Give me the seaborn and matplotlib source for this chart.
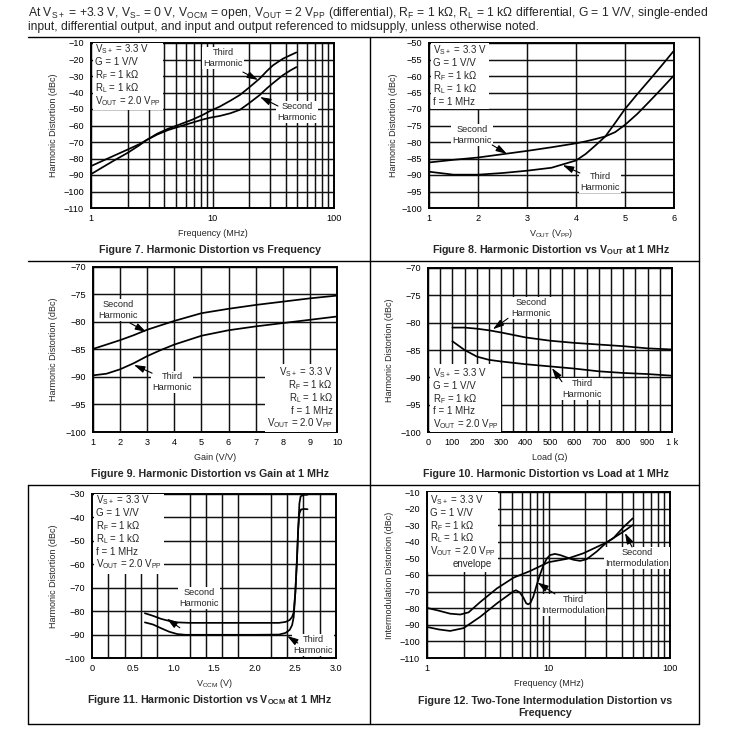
import numpy as np
import pandas as pd
import matplotlib
matplotlib.use("Agg")
import matplotlib.pyplot as plt
import seaborn as sns
from matplotlib.lines import Line2D
from matplotlib.patches import Rectangle
from matplotlib.transforms import Bbox
from matplotlib.ticker import NullFormatter

# ---------------- data ----------------
# Figure 7: harmonic distortion vs frequency (MHz)
f7_freq = [1.0, 1.3, 1.6, 2.0, 2.5, 2.87, 3.5, 4.3, 5.4, 6.8, 8.2, 9.5, 11.5, 14, 16.8, 20, 24.5, 28, 31.5, 38, 44, 49]
f7_second = [-84.6, -80.8, -77.8, -74.6, -71.3, -68.8, -65.5, -62.8, -60.5, -58.3, -56.5, -55.3, -54.2, -52.6, -50.5, -46.5, -41.5, -37.5, -34.3, -29.5, -26.5, -24.6]
f7_third = [-89.5, -84.5, -80.6, -76.6, -72.0, -68.8, -65.0, -62.0, -59.3, -56.5, -53.8, -51.3, -48.5, -45.0, -41.5, -37.0, -31.5, -27.0, -23.5, -19.5, -17.3, -15.7]

# Figure 8: harmonic distortion vs VOUT (VPP)
f8_vout = [1.0, 1.5, 2.0, 2.5, 3.0, 3.5, 4.0, 4.2, 4.4, 4.6, 4.8, 5.0, 5.25, 5.5, 5.75, 6.0]
f8_second = [-86.2, -85.4, -84.7, -83.7, -82.7, -81.6, -80.4, -79.8, -79.1, -78.3, -77.0, -74.8, -71.5, -67.7, -63.8, -59.8]
f8_third = [-89.0, -89.9, -89.9, -89.4, -88.7, -87.8, -85.6, -83.6, -81.0, -78.3, -74.2, -70.0, -65.5, -61.2, -56.8, -52.3]

# Figure 9: harmonic distortion vs gain (V/V)
f9_gain = [1, 1.5, 2, 2.5, 3, 3.5, 4, 5, 6, 7, 8, 9, 10]
f9_second = [-84.9, -84.1, -83.3, -82.4, -81.4, -80.6, -79.8, -78.4, -77.6, -76.9, -76.3, -75.7, -75.2]
f9_third = [-89.7, -89.4, -88.6, -87.5, -86.2, -85.1, -84.1, -82.5, -81.5, -80.8, -80.2, -79.6, -79.0]

# Figure 10: harmonic distortion vs load (ohm)
f10_load = [100, 125, 150, 200, 250, 300, 400, 500, 600, 700, 800, 900, 1000]
f10_second = [-80.9, -80.9, -80.9, -81.1, -81.4, -81.8, -82.7, -83.3, -83.7, -84.0, -84.3, -84.7, -84.9]
f10_third = [-83.4, -84.2, -85.0, -86.2, -86.8, -87.1, -87.6, -88.0, -88.4, -88.9, -89.2, -89.4, -89.7]

# Figure 11: harmonic distortion vs VOCM (V)
f11_v_second = [0.65, 0.75, 0.85, 0.95, 1.05, 1.2, 1.5, 2.0, 2.3, 2.38, 2.43, 2.46, 2.48, 2.50, 2.52, 2.535, 2.55, 2.57, 2.61, 2.65]
f11_second = [-80.9, -82.0, -83.3, -84.2, -84.8, -85.0, -85.0, -85.0, -85.0, -84.6, -83.8, -82.5, -80.5, -72.0, -58.0, -45.0, -38.3, -36.6, -36.4, -36.5]
f11_v_third = [0.65, 0.75, 0.85, 0.95, 1.05, 1.15, 1.5, 2.0, 2.3, 2.38, 2.43, 2.46, 2.48, 2.50, 2.52, 2.535, 2.55, 2.565, 2.6, 2.65]
f11_third = [-84.8, -85.7, -87.3, -88.8, -89.8, -90.1, -90.1, -90.1, -90.0, -89.3, -88.0, -86.0, -82.5, -72.0, -58.0, -45.0, -34.0, -31.0, -30.4, -30.3]

# Figure 12: two-tone intermodulation vs frequency (MHz)
f12_freq_second = [1.0, 1.25, 1.55, 1.88, 2.2, 2.74, 3.76, 5.16, 7.06, 10.0, 14.1, 19.4, 30.2, 41.3, 49.3]
f12_second = [-79.8, -81.5, -83.3, -83.8, -82.5, -76.3, -68.1, -61.6, -57.6, -52.3, -50.3, -46.9, -40.3, -33.9, -29.9]
f12_freq_third = [1.0, 1.25, 1.55, 2.0, 2.74, 3.76, 5.16, 5.4, 5.8, 6.2, 6.55, 6.8, 7.1, 7.5, 8.0, 8.5, 9.1, 9.7, 10.3, 11.3, 12.5, 14, 16, 18.2, 20.6, 24.9, 30.2, 34.2, 41, 49.3]
f12_third = [-91.3, -92.8, -93.7, -92.0, -85.2, -77.1, -69.8, -69.2, -70.5, -73.5, -77.0, -77.7, -76.8, -73.0, -66.0, -60.0, -54.0, -50.0, -48.0, -47.3, -48.0, -49.3, -50.8, -51.5, -50.5, -45.9, -40.3, -37.8, -31.5, -25.9]

# tick labels
log_ticks = [1, 10, 100]
log_labels = ["1", "10", "100"]
load_ticks = [0, 100, 200, 300, 400, 500, 600, 700, 800, 900, 1000]
load_labels = ["0", "100", "200", "300", "400", "500", "600", "700", "800", "900", "1 k"]
vocm_ticks = [0, 0.5, 1.0, 1.5, 2.0, 2.5, 3.0]
vocm_labels = ["0", "0.5", "1.0", "1.5", "2.0", "2.5", "3.0"]

# condition boxes
cond_vs = "V$_{S+}$ = 3.3 V"
cond_g = "G = 1 V/V"
cond_rf = "R$_F$ = 1 kΩ"
cond_rl = "R$_L$ = 1 kΩ"
cond_f = "f = 1 MHz"
cond_vout = "V$_{OUT}$ = 2.0 V$_{PP}$"

# ---------------- style ----------------
sns.set_theme(style="white")
plt.rcParams["font.family"] = ["Liberation Sans", "DejaVu Sans"]
plt.rcParams["mathtext.default"] = "regular"
plt.rcParams["axes.unicode_minus"] = True

W, H = 740, 743
fig = plt.figure(figsize=(W / 100, H / 100), dpi=100)
fig.patch.set_facecolor("white")

TICK = 6.6
LAB = 6.5
ANN = 6.7
BOX = 7.0
CAP = 7.7
GRID_KW = dict(color="#111111", lw=1.05)
LINE_KW = dict(color="black", lw=1.25)

AXPX = {}
BOXES = []


def rect(l, t, r, b):
    return [l / W, 1 - b / H, (r - l) / W, (b - t) / H]


def make_ax(l, t, r, b, xlabel, ylabel, ylab_x, xlab_y):
    ax = fig.add_axes(rect(l, t, r, b))
    AXPX[ax] = (l, t, r, b)
    ax.set_facecolor("white")
    for s in ax.spines.values():
        s.set_visible(True)
        s.set_color("black")
        s.set_linewidth(1.4)
    ax.set_axisbelow(True)
    ax.tick_params(axis="both", which="both", length=0, labelsize=TICK, colors="black")
    ax.tick_params(axis="y", pad=5)
    ax.tick_params(axis="x", pad=4.5)
    ax.set_xlabel(xlabel, fontsize=LAB, va="center", ha="center")
    ax.set_ylabel(ylabel, fontsize=LAB, va="center", ha="center")
    ax.xaxis.set_label_coords(0.5, (b - xlab_y) / (b - t))
    ax.yaxis.set_label_coords((ylab_x - l) / (r - l), 0.5)
    return ax


def curve(ax, x, y):
    sns.lineplot(x=x, y=y, ax=ax, sort=False, estimator=None, **LINE_KW)


def label(ax, x, y, s, ha="center", va="center", size=ANN):
    ax.text(x, y, s, transform=ax.transAxes, ha=ha, va=va, fontsize=size,
            multialignment="center", linespacing=1.25,
            bbox=dict(facecolor="white", edgecolor="none", pad=1.0), zorder=4)


def cond_box(ax, x_px, y0_px, lines, ha="left", step=12.8, extra=None):
    l, t, r, b = AXPX[ax]
    texts = []
    for i, s in enumerate(lines):
        y = y0_px + i * step + 3.5
        texts.append(ax.text((x_px - l) / (r - l), (b - y) / (b - t), s, transform=ax.transAxes,
                             ha=ha, va="baseline", fontsize=BOX, zorder=4))
    if extra is not None:
        ex_x, ex_i, ex_s = extra
        y = y0_px + ex_i * step + 3.5
        texts.append(ax.text((ex_x - l) / (r - l), (b - y) / (b - t), ex_s, transform=ax.transAxes,
                             ha="center", va="baseline", fontsize=BOX, zorder=4))
    BOXES.append((ax, texts))


def arrow(ax, tail, tip):
    ax.annotate("", xy=tip, xytext=tail, xycoords="data", textcoords="data",
                arrowprops=dict(arrowstyle="-|>,head_length=0.55,head_width=0.17",
                                color="black", lw=0.8, shrinkA=0, shrinkB=0), zorder=5)


def log_axis(ax):
    ax.set_xscale("log")
    ax.set_xlim(1, 100)
    ax.set_xticks(log_ticks)
    ax.set_xticklabels(log_labels)
    ax.set_xticks([v * d for d in (1, 10) for v in range(2, 10)], minor=True)
    ax.xaxis.set_minor_formatter(NullFormatter())
    ax.grid(True, which="both", axis="x", **GRID_KW)
    ax.grid(True, which="major", axis="y", **GRID_KW)


HD = "Harmonic Distortion (dBc)"

# ---- Figure 7 ----
ax7 = make_ax(91, 43, 334, 208, "Frequency (MHz)", HD, 53, 233)
curve(ax7, f7_freq, f7_second)
curve(ax7, f7_freq, f7_third)
log_axis(ax7)
ax7.set_ylim(-110, -10)
ax7.set_yticks(np.arange(-110, -9, 10))
cond_box(ax7, 95, 49, [cond_vs, cond_g, cond_rf, cond_rl, cond_vout])
label(ax7, 0.543, 0.909, "Third\nHarmonic")
arrow(ax7, (17.8, -27.6), (23.7, -32.4))
label(ax7, 0.848, 0.582, "Second\nHarmonic")
arrow(ax7, (34.6, -48.2), (24.6, -42.7))

# ---- Figure 8 ----
ax8 = make_ax(429, 43, 674, 208, "V$_{OUT}$ (V$_{PP}$)", HD, 393, 233)
curve(ax8, f8_vout, f8_second)
curve(ax8, f8_vout, f8_third)
ax8.set_xlim(1, 6)
ax8.set_ylim(-100, -50)
ax8.set_xticks([1, 2, 3, 4, 5, 6])
ax8.set_yticks(np.arange(-100, -49, 5))
ax8.grid(True, which="major", **GRID_KW)
cond_box(ax8, 433, 50, [cond_vs, cond_g, cond_rf, cond_rl, cond_f])
label(ax8, 0.176, 0.442, "Second\nHarmonic")
arrow(ax8, (2.29, -80.9), (2.59, -83.6))
label(ax8, 0.698, 0.158, "Third\nHarmonic")
arrow(ax8, (4.08, -89.4), (3.73, -87.0))

# ---- Figure 9 ----
ax9 = make_ax(93, 267, 337, 432, "Gain (V/V)", HD, 53, 457)
curve(ax9, f9_gain, f9_second)
curve(ax9, f9_gain, f9_third)
ax9.set_xlim(1, 10)
ax9.set_ylim(-100, -70)
ax9.set_xticks(range(1, 11))
ax9.set_yticks(np.arange(-100, -69, 5))
ax9.grid(True, which="major", **GRID_KW)
cond_box(ax9, 333, 372, [cond_vs, cond_rf, cond_rl, cond_f, cond_vout], ha="right")
label(ax9, 0.102, 0.739, "Second\nHarmonic")
arrow(ax9, (2.37, -80.2), (2.96, -81.8))
label(ax9, 0.324, 0.303, "Third\nHarmonic")
arrow(ax9, (3.18, -89.3), (2.51, -87.8))

# ---- Figure 10 ----
ax10 = make_ax(428, 268, 672, 432, "Load (Ω)", HD, 389, 457)
curve(ax10, f10_load, f10_second)
curve(ax10, f10_load, f10_third)
ax10.set_xlim(0, 1000)
ax10.set_ylim(-100, -70)
ax10.set_xticks(load_ticks)
ax10.set_xticklabels(load_labels)
ax10.set_xticks(np.arange(50, 1000, 100), minor=True)
ax10.set_yticks(np.arange(-100, -69, 5))
ax10.grid(True, which="both", axis="x", **GRID_KW)
ax10.grid(True, which="major", axis="y", **GRID_KW)
cond_box(ax10, 433, 373, [cond_vs, cond_g, cond_rf, cond_f, cond_vout], step=12.6)
label(ax10, 0.422, 0.756, "Second\nHarmonic")
arrow(ax10, (328, -79.2), (266, -81.2))
label(ax10, 0.631, 0.262, "Third\nHarmonic")
arrow(ax10, (549, -90.8), (508, -88.3))

# ---- Figure 11 ----
ax11 = make_ax(92, 494, 336, 658, "V$_{OCM}$ (V)", HD, 53, 683)
curve(ax11, f11_v_second, f11_second)
curve(ax11, f11_v_third, f11_third)
ax11.set_xlim(0, 3)
ax11.set_ylim(-100, -30)
ax11.set_xticks(vocm_ticks)
ax11.set_xticklabels(vocm_labels)
ax11.set_xticks(np.arange(0.2, 2.9, 0.2), minor=True)
ax11.set_yticks(np.arange(-100, -29, 10))
ax11.grid(True, which="minor", axis="x", **GRID_KW)
ax11.grid(True, which="major", axis="y", **GRID_KW)
cond_box(ax11, 96, 500, [cond_vs, cond_g, cond_rf, cond_rl, cond_f, cond_vout])
label(ax11, 0.439, 0.366, "Second\nHarmonic")
arrow(ax11, (1.08, -87.1), (0.92, -83.2))
label(ax11, 0.906, 0.079, "Third\nHarmonic")
arrow(ax11, (2.53, -93.6), (2.40, -90.6))

# ---- Figure 12 ----
ax12 = make_ax(427, 492, 670, 658, "Frequency (MHz)", "Intermodulation Distortion (dBc)", 389, 683)
curve(ax12, f12_freq_second, f12_second)
curve(ax12, f12_freq_third, f12_third)
log_axis(ax12)
ax12.set_ylim(-110, -10)
ax12.set_yticks(np.arange(-110, -9, 10))
cond_box(ax12, 430, 500, [cond_vs, cond_g, cond_rf, cond_rl, cond_vout], step=12.7,
         extra=(472, 5, "envelope"))
label(ax12, 0.864, 0.602, "Second\nIntermodulation")
arrow(ax12, (48.7, -43.1), (42.6, -34.7))
label(ax12, 0.601, 0.319, "Third\nIntermodulation")
arrow(ax12, (11.3, -71.4), (8.1, -64.5))

# ---------------- captions / header ----------------
def ftext(x, y, s, **kw):
    fig.text(x / W, 1 - y / H, s, **kw)

ftext(210, 250, "Figure 7. Harmonic Distortion vs Frequency", fontsize=CAP, fontweight="bold", ha="center", va="center")
ftext(551, 250, "Figure 8. Harmonic Distortion vs V$_{OUT}$ at 1 MHz", fontsize=CAP, fontweight="bold", ha="center", va="center")
ftext(210, 474, "Figure 9. Harmonic Distortion vs Gain at 1 MHz", fontsize=CAP, fontweight="bold", ha="center", va="center")
ftext(546, 474, "Figure 10. Harmonic Distortion vs Load at 1 MHz", fontsize=CAP, fontweight="bold", ha="center", va="center")
ftext(210, 700, "Figure 11. Harmonic Distortion vs V$_{OCM}$ at 1 MHz", fontsize=CAP, fontweight="bold", ha="center", va="center")
ftext(545, 707, "Figure 12. Two-Tone Intermodulation Distortion vs\nFrequency", fontsize=CAP, fontweight="bold", ha="center", va="center", linespacing=1.3)

HDR = 8.75
ftext(28, 13, "At V$_{S+}$ = +3.3 V, V$_{S\u2013}$ = 0 V, V$_{OCM}$ = open, V$_{OUT}$ = 2 V$_{PP}$ (differential), R$_F$ = 1 kΩ, R$_L$ = 1 kΩ differential, G = 1 V/V, single-ended",
      fontsize=HDR, ha="left", va="center")
ftext(28, 27, "input, differential output, and input and output referenced to midsupply, unless otherwise noted.",
      fontsize=HDR, ha="left", va="center")

# ---------------- page frame ----------------
def hline(y, x0, x1):
    fig.add_artist(Line2D([x0 / W, x1 / W], [1 - y / H, 1 - y / H], transform=fig.transFigure, color="black", lw=1.0))

def vline(x, y0, y1):
    fig.add_artist(Line2D([x / W, x / W], [1 - y0 / H, 1 - y1 / H], transform=fig.transFigure, color="black", lw=1.0))

for yy in (37, 261, 485, 724):
    hline(yy, 28, 699)
vline(370, 37, 724)
vline(699, 37, 724)
vline(28, 485, 724)

# white backgrounds behind the condition boxes
fig.canvas.draw()
renderer = fig.canvas.get_renderer()
for ax, texts in BOXES:
    bb = Bbox.union([t.get_window_extent(renderer) for t in texts])
    bb = Bbox.from_extents(bb.x0 - 2.5, bb.y0 - 2.5, bb.x1 + 2.5, bb.y1 + 2.0)
    bba = bb.transformed(ax.transAxes.inverted())
    ax.add_patch(Rectangle((bba.x0, bba.y0), bba.width, bba.height, transform=ax.transAxes,
                           facecolor="white", edgecolor="none", zorder=3.5))

fig.savefig("out.png", dpi=100, facecolor="white")
